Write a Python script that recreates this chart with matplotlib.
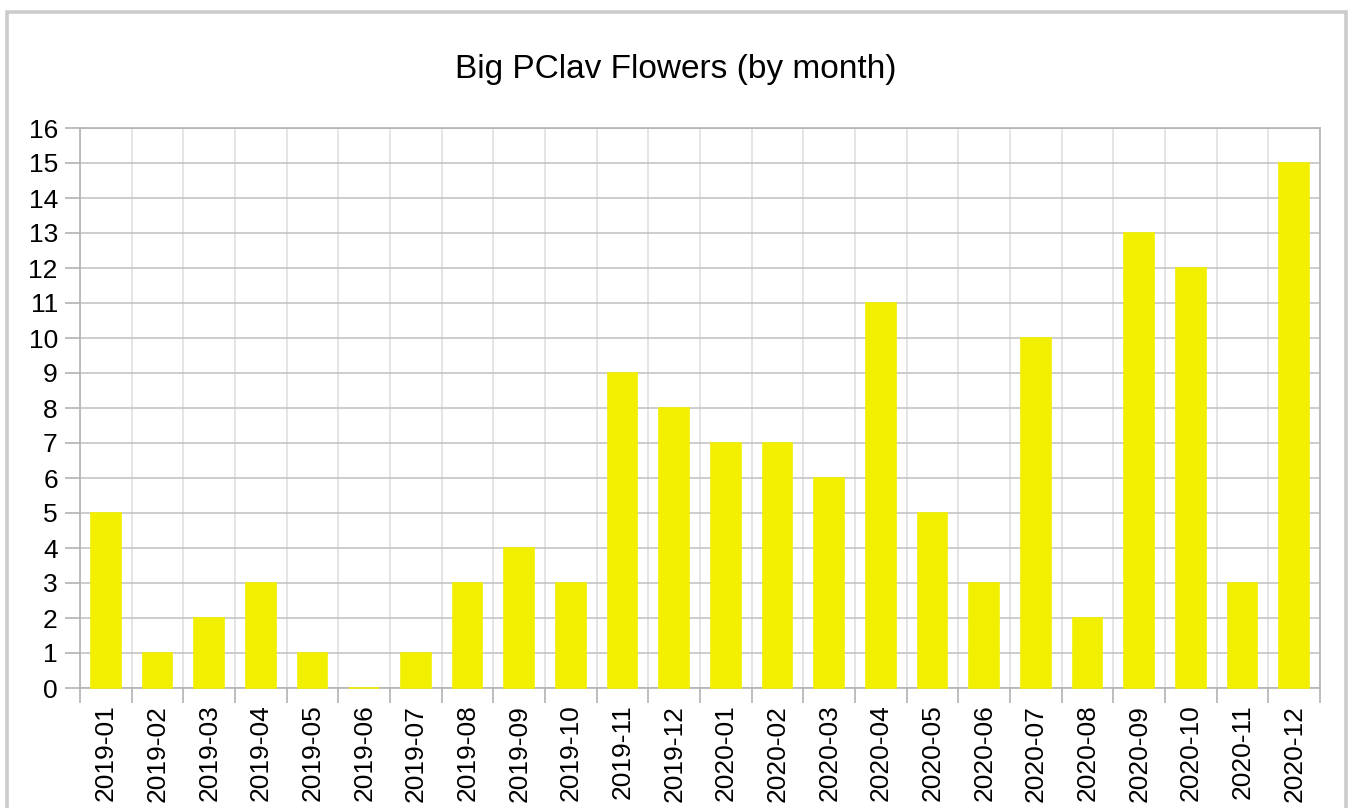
import matplotlib
matplotlib.use('Agg')
import matplotlib.pyplot as plt
from matplotlib.patches import Rectangle
import numpy as np

plt.rcParams['font.family'] = ['Liberation Sans', 'DejaVu Sans']

months = ['2019-01', '2019-02', '2019-03', '2019-04', '2019-05', '2019-06',
          '2019-07', '2019-08', '2019-09', '2019-10', '2019-11', '2019-12',
          '2020-01', '2020-02', '2020-03', '2020-04', '2020-05', '2020-06',
          '2020-07', '2020-08', '2020-09', '2020-10', '2020-11', '2020-12']
flowers = [5, 1, 2, 3, 1, 0, 1, 3, 4, 3, 9, 8,
           7, 7, 6, 11, 5, 3, 10, 2, 13, 12, 3, 15]
yticks = list(range(0, 17))

fig = plt.figure(figsize=(13.5, 8.08), dpi=100)
ax = fig.add_axes([80/1350, 1-688/808, 1240/1350, 560/808])

x = np.arange(len(months))
ax.bar(x, flowers, width=0.58, color='#f2f000', edgecolor='#f2f000',
       linewidth=1.2, zorder=3, clip_on=False)

ax.set_xlim(-0.5, len(months)-0.5)
ax.set_ylim(0, 16)
ax.set_yticks(yticks)
ax.set_yticklabels([str(v) for v in yticks])

# labels at category centres, ticks + grid at category boundaries
ax.set_xticks(x)
ax.set_xticklabels(months, rotation=90)
ax.set_xticks(np.arange(-0.5, len(months)), minor=True)
ax.tick_params(axis='x', which='major', length=0, pad=12, labelsize=19)
ax.tick_params(axis='x', which='minor', length=11, width=1.2, color='#b3b3b3')
ax.tick_params(axis='y', length=11, width=1.2, color='#b3b3b3', pad=5, labelsize=19)

ax.grid(True, axis='y', color='#c0c0c0', linewidth=1.1, zorder=0)
ax.grid(True, axis='x', which='minor', color='#dedede', linewidth=1.1, zorder=0)
ax.grid(False, axis='x', which='major')
for s in ax.spines.values():
    s.set_color('#b3b3b3')
    s.set_linewidth(1.2)

fig.text(676/1350, 1-78/808, 'Big PClav Flowers (by month)', ha='center', va='baseline', fontsize=24)

# outer chart border
fig.patches.append(Rectangle((6.5/1350, -0.05), 1339/1350, 1.05-11.5/808,
                             transform=fig.transFigure, fill=False,
                             edgecolor='#cccccc', linewidth=2.6))

fig.savefig('out.png', dpi=100)
